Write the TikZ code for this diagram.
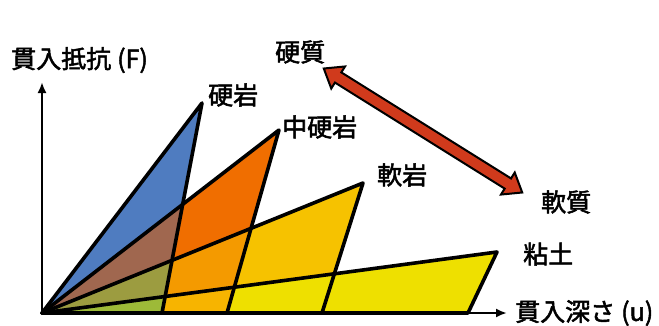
\documentclass[tikz,border=0pt]{standalone}
\usepackage{fontspec}
\setmainfont[FakeBold=2]{Noto Sans CJK JP}
\usetikzlibrary{arrows.meta,shapes.arrows}
\definecolor{cblue}{HTML}{4F7CC0}
\definecolor{cbrown}{HTML}{A0674F}
\definecolor{colive}{HTML}{9C9C40}
\definecolor{cgreen}{HTML}{9DBA38}
\definecolor{corange}{HTML}{F06E00}
\definecolor{corangeB}{HTML}{F49A00}
\definecolor{corangeC}{HTML}{F7B400}
\definecolor{csoft}{HTML}{F6C200}
\definecolor{cclay}{HTML}{EEE000}
\definecolor{cred}{HTML}{D03A1C}
\tikzset{
  lbl/.style={font=\fontsize{25}{28}\selectfont, inner sep=0pt},
  edge/.style={line width=3.6pt, line join=round, line cap=round},
  axis/.style={line width=2.2pt, -{Latex[length=11pt,width=9pt]}},
}
\begin{document}
\begin{tikzpicture}[x=1pt,y=-1pt]
\useasboundingbox (0,0) rectangle (659,325);
\fill[white] (0,0) rectangle (659,325);
\coordinate (O) at (42,313);
\coordinate (P1) at (202,103);
\coordinate (B1) at (162,313);
\coordinate (P2) at (279,130);
\coordinate (B2) at (227,313);
\coordinate (P3) at (363,183);
\coordinate (B3) at (322,313);
\coordinate (P4) at (497,252);
\coordinate (B4) at (468,313);
\coordinate (Y) at (42,82);
\coordinate (X) at (507,313);
\def\tA{(O) -- (P1) -- (B1) -- cycle}
\def\tB{(O) -- (P2) -- (B2) -- cycle}
\def\tC{(O) -- (P3) -- (B3) -- cycle}
\def\tD{(O) -- (P4) -- (B4) -- cycle}
% fills
\fill[cclay] \tD;
\fill[csoft] \tC;
\begin{scope}\clip \tC; \fill[cclay] \tD; \end{scope}
\fill[corange] \tB;
\begin{scope}\clip \tB; \fill[corangeB] \tC; \end{scope}
\begin{scope}\clip \tB; \clip \tC; \fill[corangeC] \tD; \end{scope}
\fill[cblue] \tA;
\begin{scope}\clip \tA; \fill[cbrown] \tB; \end{scope}
\begin{scope}\clip \tA; \clip \tB; \fill[colive] \tC; \end{scope}
\begin{scope}\clip \tA; \clip \tB; \clip \tC; \fill[cgreen] \tD; \end{scope}
% outlines
\draw[edge] \tD;
\draw[edge] \tC;
\draw[edge] \tB;
\draw[edge] \tA;
% axes
\draw[axis] (O) -- (Y);
\draw[axis] (O) -- (X);
% labels
\node[lbl, anchor=west] (yl) at (11,60) {貫入抵抗\hspace{6pt}(F)};
\node[lbl, anchor=west] (xl) at (515,313) {貫入深さ\hspace{6pt}(u)};
\node[lbl, anchor=west] (l1) at (208,95) {硬岩};
\node[lbl, anchor=west] (l2) at (282,127) {中硬岩};
\node[lbl, anchor=west] (l3) at (377,175) {軟岩};
\node[lbl, anchor=west] (l4) at (523,254) {粘土};
\node[lbl, anchor=west] (hard) at (275,52) {硬質};
\node[lbl, anchor=west] (soft) at (541,202) {軟質};
% double arrow
\node[double arrow, draw=black, fill=cred, line width=2pt,
      minimum height=234pt, minimum width=25pt, inner sep=5pt,
      double arrow head extend=7pt, double arrow tip angle=75,
      rotate=-32] (arr) at (423,130.5) {};
\end{tikzpicture}
\end{document}
